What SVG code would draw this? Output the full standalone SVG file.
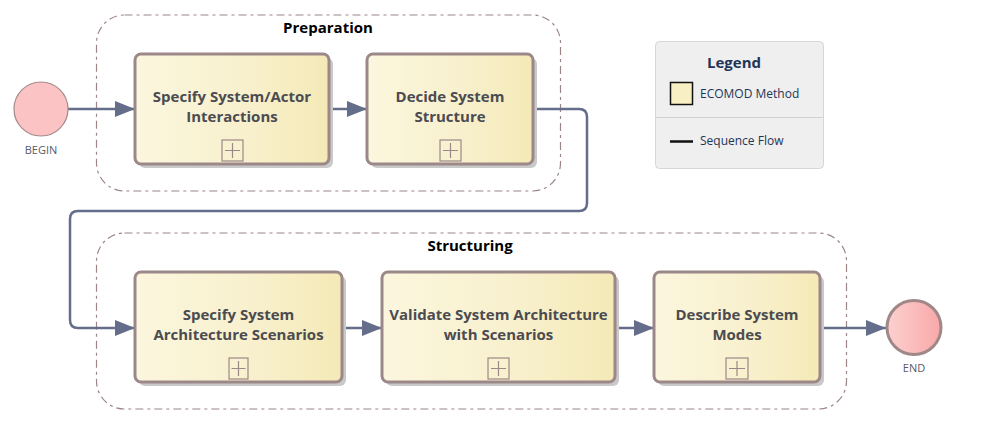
<svg xmlns="http://www.w3.org/2000/svg" width="1003" height="424" viewBox="0 0 1003 424">
<style>
.grp{fill:none;stroke:#9c8585;stroke-width:1.2;stroke-dasharray:8 4 3 4}
.grplabel{font-family:"Open Sans","Liberation Sans",sans-serif;font-weight:bold;font-size:15px;fill:#000;text-anchor:middle}
.task{fill:url(#taskgrad);stroke:#9c8888;stroke-width:3}
.shadow{fill:#c9c9c9}
.tasktext{font-family:"Open Sans","Liberation Sans",sans-serif;font-weight:bold;font-size:15px;fill:#4b4b50;text-anchor:middle}
.exp{fill:none;stroke:#9c8888;stroke-width:1.2}
.flow{fill:none;stroke:#646d89;stroke-width:2.5}
.evlabel{font-family:"Open Sans","Liberation Sans",sans-serif;font-size:11px;fill:#5a5a66;text-anchor:middle}
.leg{font-family:"Open Sans","Liberation Sans",sans-serif;font-size:12px;fill:#1e3558}
</style>
<defs>
<linearGradient id="taskgrad" x1="0" y1="0" x2="1" y2="0">
<stop offset="0" stop-color="#fbf6de"/>
<stop offset="0.6" stop-color="#f8f0cc"/>
<stop offset="1" stop-color="#f4e9b6"/>
</linearGradient>
<linearGradient id="endgrad" x1="0" y1="0" x2="1" y2="0">
<stop offset="0" stop-color="#fdd0d0"/>
<stop offset="1" stop-color="#f8a8a8"/>
</linearGradient>
<marker id="arr" markerWidth="20" markerHeight="16" refX="20" refY="8" orient="auto" markerUnits="userSpaceOnUse">
<path d="M0,0 L20,8 L0,16 Z" fill="#646d89"/>
</marker>
</defs>

<g id="group-preparation">
<rect class="grp" x="96.5" y="15" width="464" height="176" rx="28"/>
<text class="grplabel" x="328" y="33">Preparation</text>
</g>
<g id="group-structuring">
<rect class="grp" x="96.5" y="233" width="750" height="176" rx="28"/>
<text class="grplabel" x="470" y="251">Structuring</text>
</g>

<g id="connectors">
<path class="flow" d="M68,109 H135" marker-end="url(#arr)"/>
<path class="flow" d="M330,109 H367" marker-end="url(#arr)"/>
<path class="flow" d="M533,109 H579 Q587,109 587,117 V203 Q587,211 579,211 H78 Q70,211 70,219 V320 Q70,328 78,328 H135" marker-end="url(#arr)"/>
<path class="flow" d="M342,328 H382" marker-end="url(#arr)"/>
<path class="flow" d="M615,328 H654" marker-end="url(#arr)"/>
<path class="flow" d="M820,328 H886" marker-end="url(#arr)"/>
</g>

<g id="begin">
<circle cx="41" cy="109" r="27" fill="#fbc3c3" stroke="#a58a8a" stroke-width="1.2"/>
<text class="evlabel" x="41" y="154">BEGIN</text>
</g>

<g id="task-specify-interactions">
<rect class="shadow" x="139" y="58" width="194" height="110" rx="6"/>
<rect class="task" x="135" y="54" width="194" height="110" rx="6"/>
<text class="tasktext" x="232" y="102">Specify System/Actor</text>
<text class="tasktext" x="232" y="122">Interactions</text>
<rect class="exp" x="222" y="140" width="21" height="21"/>
<path class="exp" d="M225,150.5 H240 M232.5,143 V158"/>
</g>

<g id="task-decide-structure">
<rect class="shadow" x="371" y="58" width="166" height="110" rx="6"/>
<rect class="task" x="367" y="54" width="166" height="110" rx="6"/>
<text class="tasktext" x="450" y="102">Decide System</text>
<text class="tasktext" x="450" y="122">Structure</text>
<rect class="exp" x="440" y="140" width="21" height="21"/>
<path class="exp" d="M443,150.5 H458 M450.5,143 V158"/>
</g>

<g id="task-specify-scenarios">
<rect class="shadow" x="139" y="276" width="207" height="110" rx="6"/>
<rect class="task" x="135" y="272" width="207" height="110" rx="6"/>
<text class="tasktext" x="238.5" y="320">Specify System</text>
<text class="tasktext" x="238.5" y="340">Architecture Scenarios</text>
<rect class="exp" x="229" y="358" width="19" height="21"/>
<path class="exp" d="M231.5,368.5 H245.5 M238.5,361 V376"/>
</g>

<g id="task-validate">
<rect class="shadow" x="386" y="276" width="233" height="110" rx="6"/>
<rect class="task" x="382" y="272" width="233" height="110" rx="6"/>
<text class="tasktext" x="498.5" y="320">Validate System Architecture</text>
<text class="tasktext" x="498.5" y="340">with Scenarios</text>
<rect class="exp" x="488" y="358" width="21" height="21"/>
<path class="exp" d="M491,368.5 H506 M498.5,361 V376"/>
</g>

<g id="task-describe-modes">
<rect class="shadow" x="658" y="276" width="166" height="110" rx="6"/>
<rect class="task" x="654" y="272" width="166" height="110" rx="6"/>
<text class="tasktext" x="737" y="320">Describe System</text>
<text class="tasktext" x="737" y="340">Modes</text>
<rect class="exp" x="726" y="358" width="22" height="21"/>
<path class="exp" d="M729,368.5 H745 M737,361 V376"/>
</g>

<g id="end">
<circle cx="914" cy="327.5" r="27" fill="url(#endgrad)" stroke="#a08888" stroke-width="3"/>
<text class="evlabel" x="914" y="372">END</text>
</g>

<g id="legend">
<rect x="655.5" y="41.5" width="168" height="127" rx="4" fill="#efefef" stroke="#d6d6d6"/>
<text x="734" y="68" font-family="'Open Sans','Liberation Sans',sans-serif" font-weight="bold" font-size="15px" fill="#1e3558" text-anchor="middle">Legend</text>
<rect x="670.5" y="82.5" width="22" height="22" fill="#f8f0c4" stroke="#111" stroke-width="1.5"/>
<text class="leg" x="700" y="98">ECOMOD Method</text>
<line x1="656" y1="117.5" x2="823" y2="117.5" stroke="#d2d2d2"/>
<line x1="670" y1="141.5" x2="693" y2="141.5" stroke="#111" stroke-width="2.5"/>
<text class="leg" x="700" y="145">Sequence Flow</text>
</g>
</svg>
